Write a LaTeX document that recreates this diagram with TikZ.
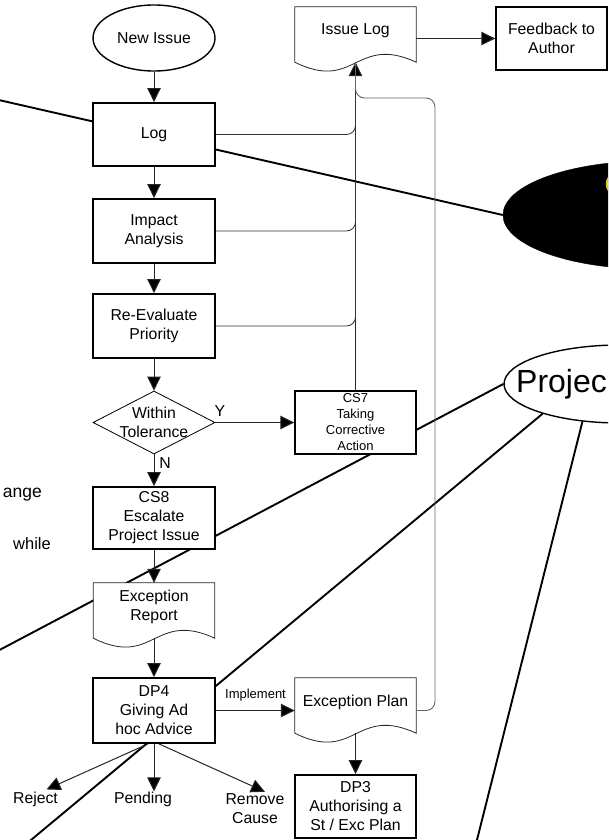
\documentclass[tikz,border=0pt]{standalone}
\usepackage{fontspec}
\setmainfont{Liberation Sans}
\usetikzlibrary{arrows.meta,shapes.geometric}
\pgfdeclarelayer{background}
\pgfdeclarelayer{docs}
\pgfsetlayers{background,docs,main}
\newcommand\boxfnt{\fontsize{15.8}{19}\selectfont}
\newcommand\smallfnt{\fontsize{13}{16}\selectfont}
\newcommand\docpath[1]{([yshift=-7pt]#1.north west) -- ([yshift=-7pt]#1.north east) -- (#1.south east) .. controls ([yshift=28pt]#1.south) and ([yshift=-30pt]#1.south) .. (#1.south west) -- cycle}
\begin{document}
\begin{tikzpicture}[x=1pt,y=-1pt,
  box/.style={draw, line width=1.8pt, fill=white, rectangle, minimum width=122pt, inner sep=0pt, align=center, font=\boxfnt},
  doc/.style={rectangle, minimum width=121pt, minimum height=62pt, inner sep=0pt, align=center, font=\boxfnt},
  docline/.style={draw=black!85, line width=0.8pt, fill=white},
  txt/.style={inner sep=0pt, align=center, font=\boxfnt},
  flow/.style={draw=black!85, line width=1pt, -{Triangle[length=14pt,width=13.5pt,fill=black]}},
  fb/.style={draw=black!80, line width=0.8pt, rounded corners=9pt},
  fbl/.style={draw=black!60, line width=0.9pt, rounded corners=9pt},
  heavy/.style={draw=black, line width=1.9pt}
]
\useasboundingbox (0,0) rectangle (608,840);
\clip (0,0) rectangle (608,840);

% main flow column
\node[ellipse, draw, line width=1.4pt, fill=white, minimum width=122pt, minimum height=66pt, inner sep=0pt, font=\boxfnt] (new) at (154,38) {New Issue};
\node[box, minimum height=63pt] (log) at (154,134.5) {Log};
\node[box, minimum height=64pt] (impact) at (154,231) {Impact\\Analysis};
\node[box, minimum height=64pt] (reeval) at (154,326) {Re-Evaluate\\Priority};
\node[diamond, draw, line width=0.8pt, fill=white, minimum width=122pt, minimum height=63pt, inner sep=0pt] (tol) at (154,422.5) {};
\node[txt] (toltext) at (154,422.5) {Within\\Tolerance};
\node[box, minimum height=62pt] (cs8) at (154,518) {CS8\\Escalate\\Project Issue};
\node[doc] (exrep) at (154,607) {Exception\\Report};
\node[box, minimum height=65pt] (dp4) at (154,710.5) {DP4\\Giving Ad\\hoc Advice};

% second column
\node[doc] (issuelog) at (355.5,31) {Issue Log};
\node[box, line width=1.4pt, minimum width=121pt, minimum height=63pt, font=\smallfnt] (cs7) at (355.5,422.5) {CS7\\Taking\\Corrective\\Action};
\node[doc] (explan) at (355.5,702) {Exception Plan};
\node[box, minimum width=121pt, minimum height=63pt] (dp3) at (355.5,806.5) {DP3\\Authorising a\\St / Exc Plan};
\node[box, line width=1.4pt, minimum width=111pt, minimum height=63pt] (feedback) at (551.5,38.5) {Feedback to\\Author};

% outcome texts
\node[txt] (reject) at (35.5,799) {Reject};
\node[txt] (pending) at (143,799) {Pending};
\node[txt] (remove) at (255,809) {Remove\\Cause};

% labels
\node[txt] (ylab) at (220,411) {Y};
\node[txt] (nlab) at (165,463) {N};
\node[inner sep=0pt, font=\smallfnt] (implab) at (255.5,695) {Implement};

% left edge texts
\node[anchor=base east, inner sep=0pt, font=\fontsize{17.5}{19}\selectfont] (ange) at (42,497) {ange};
\node[anchor=base east, inner sep=0pt, font=\fontsize{16.5}{19}\selectfont] (while) at (51,549) {while};

% right-side ellipses
\node[ellipse, fill=black, draw=black, minimum width=294pt, minimum height=108pt, inner sep=0pt] (blk) at (650,215) {};
\draw[yellow!85!black, line width=2pt] (609,177) .. controls (606,182) and (606,186) .. (609,191);
\node[ellipse, draw, line width=1.4pt, fill=white, minimum width=232pt, minimum height=78pt, inner sep=0pt] (proj) at (620,384) {};
\node[anchor=base west, inner sep=0pt, font=\fontsize{32}{36}\selectfont] (projtxt) at (516,392) {Projec};

% document outlines
\begin{pgfonlayer}{docs}
  \draw[docline] \docpath{issuelog};
  \draw[docline] \docpath{exrep};
  \draw[docline] \docpath{explan};
\end{pgfonlayer}

% heavy lines behind everything
\coordinate (f1) at (-10,98);
\coordinate (f2) at (-10,655);
\coordinate (f3) at (25,845);
\coordinate (f4) at (475.7,845);
\begin{pgfonlayer}{background}
  \draw[heavy] (f1) -- (blk.west);
  \draw[heavy] (proj.west) -- (f2);
  \draw[heavy] (proj.201.5) -- (f3);
  \draw[heavy] (proj.225) -- (f4);
\end{pgfonlayer}

% flow connectors
\draw[flow] (new) -- (log);
\draw[flow] (log) -- (impact);
\draw[flow] (impact) -- (reeval);
\draw[flow] (reeval) -- (tol);
\draw[flow] (tol.south) -- (cs8.north);
\draw[flow] (tol.east) -- (cs7.west);
\draw[flow] (cs8.south) -- ([yshift=-7pt]exrep.north);
\draw[flow] (exrep.south) -- (dp4.north);
\draw[flow] (dp4.east) -- (dp4.east -| explan.west);
\draw[flow] (explan.south) -- (dp3.north);
\draw[flow] (cs7.north) -- (issuelog.south);
\draw[flow] (issuelog.east |- feedback.west) -- (feedback.west);
\draw[flow] ([xshift=-6pt]dp4.south) -- ([xshift=11pt,yshift=2pt]reject.north);
\draw[flow] (dp4.south) -- (dp4.south |- pending.north);
\draw[flow] ([xshift=5pt]dp4.south) -- ([xshift=10pt,yshift=2pt]remove.north);

% feedback lines into the Issue Log
\draw[fb] (log.east) -| (issuelog.south);
\draw[fb] (impact.east) -| (issuelog.south);
\draw[fb] (reeval.east) -| (issuelog.south);
\coordinate (loopc) at (435,98);
\draw[fbl] (dp4.east -| explan.east) -| (loopc) -| (issuelog.south);
\end{tikzpicture}
\end{document}
